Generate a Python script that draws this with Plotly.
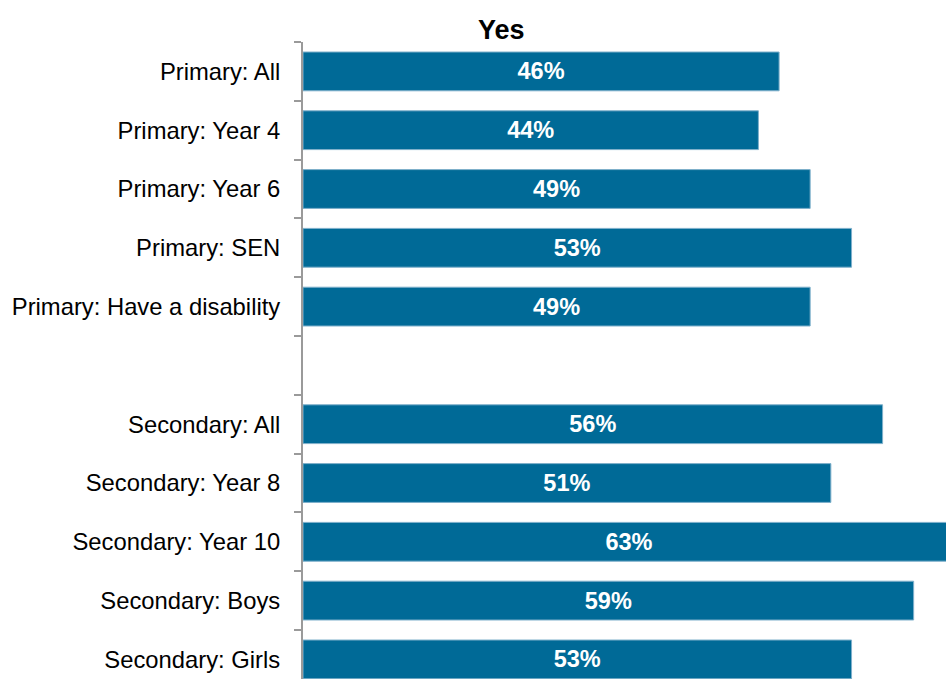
import plotly.graph_objects as go

# Survey groups (a blank slot separates primary and secondary)
categories = [
    "Primary: All",
    "Primary: Year 4",
    "Primary: Year 6",
    "Primary: SEN",
    "Primary: Have a disability",
    " ",
    "Secondary: All",
    "Secondary: Year 8",
    "Secondary: Year 10",
    "Secondary: Boys",
    "Secondary: Girls",
]
yes_pct = [46, 44, 49, 53, 49, None, 56, 51, 63, 59, 53]
labels = [f"{v}%" if v is not None else "" for v in yes_pct]

W, H = 946, 679
left, top = 303, 42
slot = 58.8  # pixels per category
plot_h = H - top
y_bottom = -0.5 + plot_h / slot
FONT = "Liberation Sans, Arial, sans-serif"

fig = go.Figure(
    go.Bar(
        y=categories,
        x=yes_pct,
        orientation="h",
        width=0.66,
        marker=dict(color="#006A97", line=dict(color="#7fb0cb", width=1)),
        text=labels,
        textposition="inside",
        insidetextanchor="middle",
        textangle=0,
        textfont=dict(family=FONT, size=23.5, color="white", weight="bold"),
        cliponaxis=True,
        hoverinfo="skip",
    )
)

fig.update_layout(
    width=W,
    height=H,
    margin=dict(l=left, r=0, t=top, b=0, autoexpand=False),
    paper_bgcolor="white",
    plot_bgcolor="white",
    showlegend=False,
    font=dict(family=FONT, color="black"),
    uniformtext=dict(mode=False),
    annotations=[
        dict(
            text="<b>Yes</b>",
            xref="paper", yref="paper",
            x=(501 - left) / (W - left), y=1.0,
            xanchor="center", yanchor="bottom",
            yshift=-5,
            showarrow=False,
            font=dict(size=27, color="black", family=FONT),
        )
    ],
)

fig.update_xaxes(
    range=[0, (W - left) / 10.35],
    visible=False,
    showgrid=False,
    zeroline=False,
)

fig.update_yaxes(
    type="category",
    categoryorder="array",
    categoryarray=categories,
    range=[y_bottom, -0.5],
    showgrid=False,
    zeroline=False,
    showline=True,
    linecolor="#9a9a9a",
    linewidth=2,
    ticks="outside",
    tickson="boundaries",
    ticklen=7,
    tickwidth=1.5,
    tickcolor="#9a9a9a",
    ticklabelstandoff=16,
    tickfont=dict(size=23.8, color="black", family=FONT),
)

fig.write_html("out.html")
